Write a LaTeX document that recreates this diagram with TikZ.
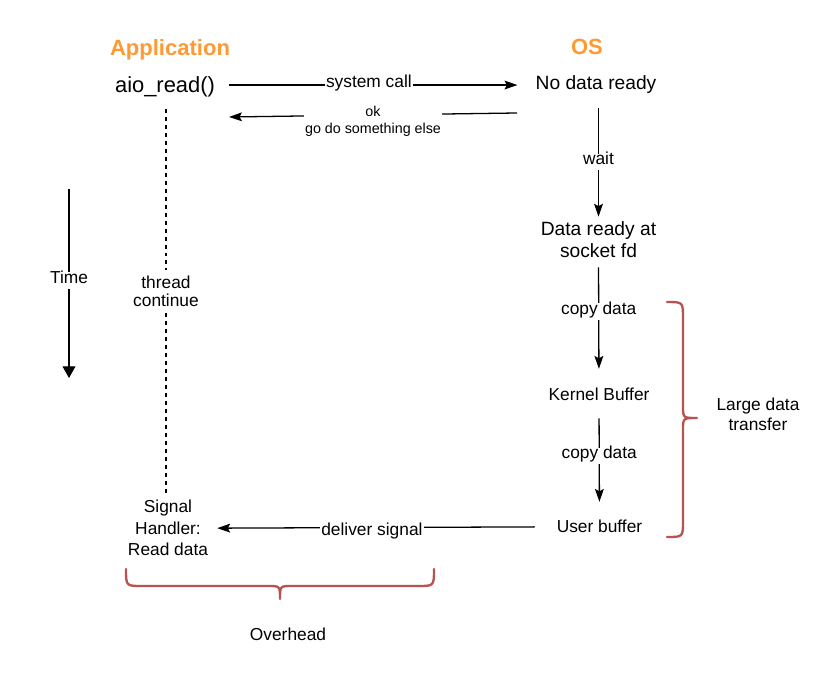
\documentclass[tikz,border=0pt]{standalone}
\usepackage{fontspec}
\setmainfont{Liberation Sans}
\usetikzlibrary{arrows.meta}
\definecolor{apporange}{HTML}{FF9933}
\definecolor{bracered}{HTML}{B85450}
\begin{document}
\begin{tikzpicture}[x=0.03cm, y=-0.03cm,
        every node/.style={inner sep=0pt, align=center, font=\fontsize{14.8}{18.4}\selectfont},
        heading/.style={text=apporange, font=\bfseries\fontsize{18.8}{22}\selectfont},
        osstate/.style={font=\fontsize{16.4}{18.8}\selectfont},
        lbl/.style={fill=white, inner xsep=1pt, inner ysep=2pt, text height=0.75em, text depth=0.25em},
        flow/.style={line width=1.1pt, -{Stealth[length=11pt, width=7.5pt, inset=2pt]}},
        thread/.style={line width=1pt, dash pattern=on 3.4pt off 3.4pt},
        curly/.style={draw=bracered, line width=2pt, line cap=round, line join=round}]
        \useasboundingbox (0,0) rectangle (831,682);

        \node[heading, anchor=base] (app) at (170,56) {Application};
        \node[heading, anchor=base] (os) at (587,55) {OS};

        \node[anchor=base, font=\fontsize{18.7}{22}\selectfont] (aio) at (165,93) {aio\_read()};
        \node[font=\fontsize{14.8}{16.2}\selectfont] (thread) at (166,291.3) {thread\\continue};
        \node (signal) at (168,528.2) {Signal\\Handler:\\Read data};

        \node[osstate, anchor=base] (nodata) at (596,90) {No data ready};
        \node[osstate] (ready) at (598.5,240) {Data ready at\\socket fd};
        \node[anchor=base] (kernel) at (599,401) {Kernel Buffer};
        \node[anchor=base] (user) at (599.5,533) {User buffer};

        \node[font=\fontsize{14.8}{17.1}\selectfont] (large) at (758,414.7) {Large data\\transfer};
        \node[anchor=base] (overhead) at (288,640) {Overhead};

        \coordinate (okR) at (517,113);
        \coordinate (okL) at (229,117);
        \coordinate (timeTop) at (69,189);
        \coordinate (timeBot) at (69,378);

        \path[flow]
            (nodata.west -| aio.east) edge [shorten <=0.42cm, shorten >=0.54cm] node[lbl, pos=0.48] {system call} (nodata.west)
            (okR) edge node[fill=white, inner sep=1pt, yshift=-0.19cm, font=\fontsize{12.2}{13.7}\selectfont] {ok\\go do something else} (okL)
            (ready.north |- nodata.south) edge [shorten <=0.42cm, shorten >=0.15cm] node[lbl, pos=0.53] {wait} (ready.north)
            (ready.south) edge [shorten <=0.27cm, shorten >=0.58cm] node[lbl, pos=0.41] {copy data} (kernel.north)
            (kernel.south) edge [shorten <=0.51cm, shorten >=0.55cm] node[lbl, pos=0.46] {copy data} (user.north)
            (user.west) edge [shorten <=0.66cm, shorten >=0.27cm] node[lbl, pos=0.53, yshift=-0.165cm] {deliver signal} (signal.east)
        ;

        \draw[line width=1.1pt, -{Triangle[length=10pt, width=11pt]}]
            (timeTop) -- node[lbl, pos=0.485] {Time} (timeBot);

        \path[thread]
            (thread.north |- aio.south) edge [shorten <=0.34cm, shorten >=0.16cm] (thread.north)
            (thread.south) edge [shorten <=0.18cm, shorten >=0.16cm] (thread.south |- signal.north)
        ;

        % braces
        \draw[curly] (667,302) .. controls (683,302) .. (683,318) -- (683,406)
            .. controls (683,418) .. (697,418) .. controls (683,418) .. (683,430)
            -- (683,521) .. controls (683,537) .. (667,537);
        \draw[curly] (126,569) .. controls (126,586) .. (142,586) -- (268,586)
            .. controls (280,586) .. (280,599) .. controls (280,586) .. (292,586)
            -- (418,586) .. controls (434,586) .. (434,569);
    \end{tikzpicture}
\end{document}
